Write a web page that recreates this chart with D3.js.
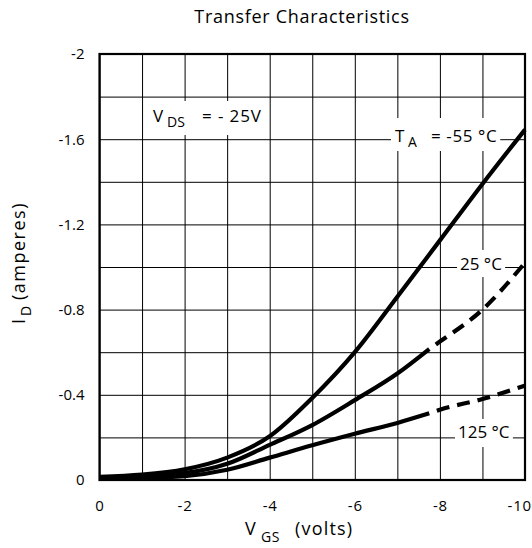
<!DOCTYPE html>
<html>
<head>
<meta charset="utf-8">
<script src="https://cdn.jsdelivr.net/npm/d3@7"></script>
<style>
  body { margin: 0; background: #fff; }
  svg { display: block; }
  text { font-family: "Open Sans", "Noto Sans", sans-serif; fill: #000; }
</style>
</head>
<body>
<svg id="chart" width="532" height="548"></svg>
<script>
// Gate voltage / drain current samples (volts, amperes) for each ambient temperature
const vgsCold = [0, -1, -2, -3, -4, -5, -6, -7, -8, -9, -10];
const idCold  = [-0.015, -0.025, -0.05, -0.105, -0.205, -0.385, -0.60, -0.86, -1.125, -1.39, -1.645];

const vgsRoomSolid = [0, -1, -2, -3, -4, -5, -6, -7, -7.75];
const idRoomSolid  = [-0.012, -0.018, -0.032, -0.076, -0.165, -0.258, -0.375, -0.50, -0.615];
const vgsRoomDash  = [-7.75, -8, -9, -10];
const idRoomDash   = [-0.615, -0.65, -0.80, -1.02];

const vgsHotSolid = [0, -1, -2, -3, -4, -5, -6, -7, -7.75];
const idHotSolid  = [-0.008, -0.01, -0.018, -0.048, -0.105, -0.163, -0.217, -0.268, -0.313];
const vgsHotDash  = [-7.75, -8, -9, -10];
const idHotDash   = [-0.313, -0.33, -0.38, -0.443];

// Axis ticks and grid divisions
const xTickValues = [0, -2, -4, -6, -8, -10];
const yTickValues = [0, -0.4, -0.8, -1.2, -1.6, -2];
const xGridValues = [0, -1, -2, -3, -4, -5, -6, -7, -8, -9, -10];
const yGridValues = [0, -0.2, -0.4, -0.6, -0.8, -1.0, -1.2, -1.4, -1.6, -1.8, -2.0];

const svg = d3.select("#chart");
const plot = { left: 99.5, right: 525, top: 54, bottom: 480 };

const x = d3.scaleLinear().domain([0, -10]).range([plot.left, plot.right]);
const y = d3.scaleLinear().domain([0, -2]).range([plot.bottom, plot.top]);

// Grid
svg.append("g")
  .attr("transform", `translate(0,${plot.bottom})`)
  .call(d3.axisBottom(x).tickValues(xGridValues).tickSize(-(plot.bottom - plot.top)).tickFormat(""))
  .call(g => g.select(".domain").remove())
  .call(g => g.selectAll("line").attr("stroke", "#000").attr("stroke-width", 1));

svg.append("g")
  .attr("transform", `translate(${plot.left},0)`)
  .call(d3.axisLeft(y).tickValues(yGridValues).tickSize(-(plot.right - plot.left)).tickFormat(""))
  .call(g => g.select(".domain").remove())
  .call(g => g.selectAll("line").attr("stroke", "#000").attr("stroke-width", 1));

// Tick labels
const fmt = v => (v === 0 ? "0" : String(v));
svg.append("g")
  .attr("transform", `translate(0,${plot.bottom})`)
  .call(d3.axisBottom(x).tickValues(xTickValues).tickSize(0).tickPadding(20).tickFormat(fmt))
  .call(g => g.select(".domain").remove())
  .call(g => g.selectAll("text").attr("font-family", null).attr("font-size", 15).attr("letter-spacing", 0.8))
  .call(g => g.selectAll(".tick").filter(d => d === -10).select("text")
    .attr("text-anchor", "end").attr("x", 6.5));

svg.append("g")
  .attr("transform", `translate(${plot.left},0)`)
  .call(d3.axisLeft(y).tickValues(yTickValues).tickSize(0).tickPadding(15).tickFormat(fmt))
  .call(g => g.select(".domain").remove())
  .call(g => g.selectAll("text").attr("font-family", null).attr("font-size", 15));

// Annotations with white backing that interrupts the grid
function boxedLabel(parts, pad) {
  const g = svg.append("g");
  const rect = g.append("rect").attr("fill", "#fff");
  const t = g.append("text").attr("font-size", 17);
  parts.forEach(p => {
    t.append("tspan")
      .attr("x", p.x)
      .attr("y", p.y)
      .attr("font-size", p.size || 17)
      .attr("letter-spacing", p.ls || 0)
      .text(p.text);
  });
  const b = t.node().getBBox();
  rect.attr("x", b.x - pad[0]).attr("y", b.y - pad[1])
      .attr("width", b.width + pad[0] + pad[2]).attr("height", b.height + pad[1] + pad[3]);
  return g;
}

boxedLabel([
  { text: "V", x: 153, y: 122 },
  { text: "DS", x: 167, y: 127, size: 14 },
  { text: "= - 25V", x: 202, y: 122, ls: 0.9 }
], [6, 3, 6, 4]);
boxedLabel([
  { text: "T", x: 395, y: 142 },
  { text: "A", x: 408, y: 147, size: 14 },
  { text: "= -55 °C", x: 431, y: 142, ls: 0.6 }
], [4, 6, 3, 0]);
boxedLabel([{ text: "25 °C", x: 460, y: 270 }], [3, 2, 3, 2]);
boxedLabel([{ text: "125 °C", x: 458, y: 438 }], [3, 1, 3, 4]);

// Plot frame
svg.append("rect")
  .attr("x", plot.left).attr("y", plot.top)
  .attr("width", plot.right - plot.left).attr("height", plot.bottom - plot.top)
  .attr("fill", "none").attr("stroke", "#000").attr("stroke-width", 2.2);

// Curves
const line = d3.line().x(d => x(d[0])).y(d => y(d[1])).curve(d3.curveMonotoneX);
const zipPts = (xs, ys) => xs.map((v, i) => [v, ys[i]]);

const curves = [
  { pts: zipPts(vgsCold, idCold), dash: null },
  { pts: zipPts(vgsRoomSolid, idRoomSolid), dash: null },
  { pts: zipPts(vgsRoomDash, idRoomDash), dash: "13,8" },
  { pts: zipPts(vgsHotSolid, idHotSolid), dash: null },
  { pts: zipPts(vgsHotDash, idHotDash), dash: "13,8" }
];

svg.append("g").selectAll("path")
  .data(curves)
  .join("path")
  .attr("d", d => line(d.pts))
  .attr("fill", "none")
  .attr("stroke", "#000")
  .attr("stroke-width", 4.2)
  .attr("stroke-dasharray", d => d.dash)
  .attr("stroke-dashoffset", d => (d.dash ? 13 : null));

// Titles
svg.append("text")
  .attr("x", 302).attr("y", 23)
  .attr("text-anchor", "middle").attr("font-size", 18).attr("letter-spacing", 0.7)
  .text("Transfer Characteristics");

const xl = svg.append("text").attr("font-size", 18);
xl.append("tspan").attr("x", 245).attr("y", 535).text("V");
xl.append("tspan").attr("x", 261).attr("y", 542).attr("font-size", 14).attr("letter-spacing", 0.5).text("GS");
xl.append("tspan").attr("x", 295).attr("y", 535).attr("letter-spacing", 1.2).text("(volts)");

const yl = svg.append("text")
  .attr("transform", "translate(25,324) rotate(-90)")
  .attr("font-size", 18);
yl.append("tspan").attr("x", 0).attr("y", 0).text("I");
yl.append("tspan").attr("x", 8).attr("y", 6).attr("font-size", 14).text("D");
yl.append("tspan").attr("x", 24).attr("y", 0).attr("letter-spacing", 1.5).text("(amperes)");
</script>
</body>
</html>
